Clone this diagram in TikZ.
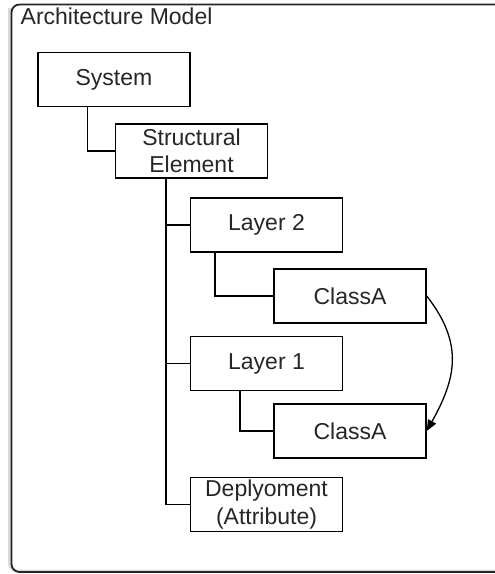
\documentclass[tikz,border=0pt]{standalone}
\usepackage{fontspec}
\setmainfont{Liberation Sans}
\usetikzlibrary{arrows.meta,positioning}
\begin{document}
\begin{tikzpicture}[x=1pt,y=-1pt,
  box/.style={draw=black,line width=1.5pt,minimum width=152pt,minimum height=54pt,inner sep=0pt,align=center,font=\fontsize{23}{27.5}\selectfont,text=black!85},
  link/.style={draw=black,line width=1.5pt}]
\useasboundingbox (0,0) rectangle (495,574);
% shadow and outer frame
\draw[line width=3pt,black!15,rounded corners=8pt] (9.5,8) -- (9.5,571) -- (500,571);
\draw[line width=1.8pt,black!85,rounded corners=8pt] (11.5,572) rectangle (505,4.5);
\node[anchor=base west,inner sep=0pt,font=\fontsize{23}{27.5}\selectfont,text=black!85] (title) at (20.5,24.5) {Architecture Model};
% nodes
\node[box] (sys) at (114,79.5) {System};
\node[box] (se) at (191.5,151) {Structural\\Element};
\node[box] (l2) at (266.5,225) {Layer 2};
\node[box] (ca1) at (350,296) {ClassA};
\node[box] (l1) at (266.5,363.5) {Layer 1};
\node[box] (ca2) at (350,431) {ClassA};
\node[box] (dep) at (266.5,504.5) {Deplyoment\\(Attribute)};
% connectors
\draw[link] (sys.south west) ++(50,0) |- (se.west);
\draw[link] (se.south west) ++(51,0) |- (dep.west);
\draw[link] (l2.west) -- ++(-25,0);
\draw[link] (l1.west) -- ++(-25,0);
\draw[link] (l2.south west) ++(25,0) |- (ca1.west);
\draw[link] (l1.south west) ++(50,0) |- (ca2.west);
\draw[line width=1.3pt,-{Triangle[length=11pt,width=9pt]}] (ca1.east) .. controls (465,345) and (455,380) .. (ca2.east);
\end{tikzpicture}
\end{document}
